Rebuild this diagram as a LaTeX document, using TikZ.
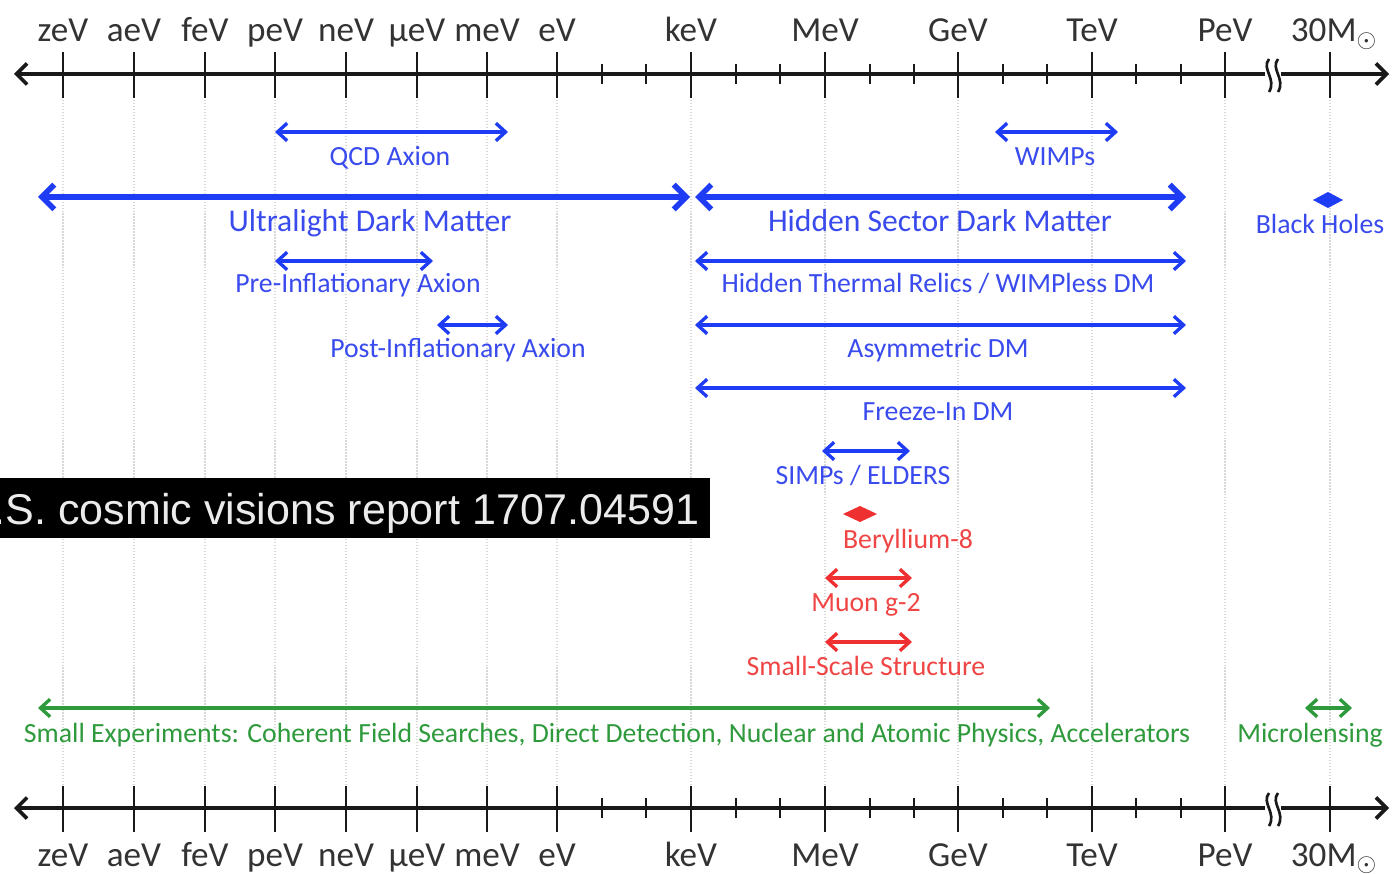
\documentclass[tikz,border=0pt]{standalone}
\usepackage{fontspec}
\setmainfont{Carlito}
\newfontfamily\arialf{Liberation Sans}
\usetikzlibrary{arrows.meta}
\definecolor{axgray}{HTML}{333333}
\definecolor{dmblue}{HTML}{1F3CF5}
\definecolor{dmbluetxt}{HTML}{3A4BEE}
\definecolor{dmred}{HTML}{EE3030}
\definecolor{dmredtxt}{HTML}{F04545}
\definecolor{dmgreen}{HTML}{2E9A3C}
\definecolor{gridgray}{HTML}{D8D8D8}
\tikzset{
  axisline/.style={line width=2.1pt, black!90,
    {Straight Barb[length=6pt,width=12pt]}-{Straight Barb[length=6pt,width=12pt]}},
  majtick/.style={line width=1.6pt, black!90},
  mintick/.style={line width=1.4pt, black!90},
  gridline/.style={gridgray, line width=0.7pt, densely dotted},
  axlabel/.style={font=\fontsize{20}{22}\selectfont, text=axgray, inner sep=0pt, anchor=base},
  dmarrow/.style={line width=1.9pt,
    {Straight Barb[length=5.5pt,width=10pt]}-{Straight Barb[length=5.5pt,width=10pt]}},
  dmthick/.style={line width=3.2pt,
    {Straight Barb[length=7pt,width=14pt]}-{Straight Barb[length=7pt,width=14pt]}},
  smalllab/.style={font=\fontsize{15.8}{17}\selectfont, inner sep=0pt, text height=0.7em, text depth=0.22em, yshift=-4*0.02cm},
  biglab/.style={font=\fontsize{18}{20}\selectfont, inner sep=0pt, text height=0.7em, text depth=0.22em, yshift=-4*0.02cm},
}
\begin{document}
\begin{tikzpicture}[x=0.02cm,y=-0.02cm]
\useasboundingbox (0,0) rectangle (1392,874);
\fill[white] (0,0) rectangle (1392,874);

% grid lines
\foreach \x in {63,134,205,275,346,417,487,557,691,825,958,1092,1225,1330}
  \draw[gridline] (\x,100) -- (\x,786);

% ---------- axes ----------
\foreach \ya/\nm in {74/top,808/bot}{
  \coordinate (\nm-L) at (14,\ya);
  \coordinate (\nm-R) at (1389,\ya);
  \draw[axisline] (\nm-L) -- (\nm-R);
  \foreach \x in {63,134,205,275,346,417,487,557,691,825,958,1092,1225,1330}
    \draw[majtick] (\x,\ya-22) -- (\x,\ya+24);
  \foreach \x in {602,646,736,780,870,914,1003,1047,1136,1181}
    \draw[mintick] (\x,\ya-10) -- (\x,\ya+10);
  % axis break
  \fill[white] (1265,\ya-6) rectangle (1281,\ya+6);
  \draw[line width=1.5pt, black!90] (1269,\ya-15) .. controls (1261,\ya-5) and (1277,\ya+5) .. (1269,\ya+18);
  \draw[line width=1.5pt, black!90] (1278,\ya-15) .. controls (1270,\ya-5) and (1286,\ya+5) .. (1278,\ya+18);
}

% axis labels
\foreach \x/\t/\n in {63/zeV/a,134/aeV/b,205/feV/c,275/peV/d,346/neV/e,417/μeV/f,487/meV/g,557/eV/h,691/keV/i,825/MeV/j,958/GeV/k,1092/TeV/l,1225/PeV/m}{
  \node[axlabel] (top-\n) at (\x,42) {\t};
  \node[axlabel] (bot-\n) at (\x,866) {\t};
}
\node[axlabel] (top-n) at (1334,42) {30M$_{\odot}$};
\node[axlabel] (bot-n) at (1334,866) {30M$_{\odot}$};

% ---------- blue: dark matter models ----------
\begin{scope}[dmblue]
\coordinate (qcdL) at (275,132); \coordinate (qcdR) at (508,132);
\draw[dmarrow] (qcdL) -- (qcdR);
\node[smalllab, text=dmbluetxt] (qcd) at (390,157) {QCD Axion};

\coordinate (wimL) at (995,132); \coordinate (wimR) at (1118,132);
\draw[dmarrow] (wimL) -- (wimR);
\node[smalllab, text=dmbluetxt] (wim) at (1055,157) {WIMPs};

\coordinate (uldL) at (38,197); \coordinate (uldR) at (690,197);
\draw[dmthick] (uldL) -- (uldR);
\node[biglab, text=dmbluetxt] (uld) at (370,223) {Ultralight Dark Matter};

\coordinate (hsdL) at (695,197); \coordinate (hsdR) at (1186,197);
\draw[dmthick] (hsdL) -- (hsdR);
\node[biglab, text=dmbluetxt] (hsd) at (940,223) {Hidden Sector Dark Matter};

\coordinate (bhD) at (1328,200);
\fill ([xshift=-15*0.02cm]bhD) -- ([yshift=8*0.02cm]bhD) -- ([xshift=15*0.02cm]bhD) -- ([yshift=-8*0.02cm]bhD) -- cycle;
\node[smalllab, text=dmbluetxt] (bh) at (1320,225) {Black Holes};

\coordinate (preL) at (275,261); \coordinate (preR) at (433,261);
\draw[dmarrow] (preL) -- (preR);
\node[smalllab, text=dmbluetxt] (pre) at (358,284) {Pre-Inflationary Axion};

\coordinate (htrL) at (695,261); \coordinate (htrR) at (1186,261);
\draw[dmarrow] (htrL) -- (htrR);
\node[smalllab, text=dmbluetxt] (htr) at (938,284) {Hidden Thermal Relics / WIMPless DM};

\coordinate (posL) at (437,325); \coordinate (posR) at (508,325);
\draw[dmarrow] (posL) -- (posR);
\node[smalllab, text=dmbluetxt] (pos) at (458,349) {Post-Inflationary Axion};

\coordinate (asyL) at (695,325); \coordinate (asyR) at (1186,325);
\draw[dmarrow] (asyL) -- (asyR);
\node[smalllab, text=dmbluetxt] (asy) at (938,349) {Asymmetric DM};

\coordinate (frzL) at (695,388); \coordinate (frzR) at (1186,388);
\draw[dmarrow] (frzL) -- (frzR);
\node[smalllab, text=dmbluetxt] (frz) at (938,412) {Freeze-In DM};

\coordinate (simL) at (822,451); \coordinate (simR) at (910,451);
\draw[dmarrow] (simL) -- (simR);
\node[smalllab, text=dmbluetxt] (sim) at (863,476) {SIMPs / ELDERS};
\end{scope}

% ---------- red: anomalies ----------
\begin{scope}[dmred]
\coordinate (beD) at (860,514);
\fill ([xshift=-17*0.02cm]beD) -- ([yshift=8*0.02cm]beD) -- ([xshift=17*0.02cm]beD) -- ([yshift=-8*0.02cm]beD) -- cycle;
\node[smalllab, text=dmredtxt] (be) at (908,540) {Beryllium-8};

\coordinate (muL) at (825,578); \coordinate (muR) at (912,578);
\draw[dmarrow] (muL) -- (muR);
\node[smalllab, text=dmredtxt] (mu) at (866,603) {Muon g-2};

\coordinate (ssL) at (825,642); \coordinate (ssR) at (912,642);
\draw[dmarrow] (ssL) -- (ssR);
\node[smalllab, text=dmredtxt] (ss) at (866,667) {Small-Scale Structure};
\end{scope}

% ---------- green: experiments ----------
\begin{scope}[dmgreen]
\coordinate (seL) at (38,708); \coordinate (seR) at (1050,708);
\draw[dmarrow] (seL) -- (seR);
\node[smalllab, text=dmgreen] (se) at (607,734) {Small Experiments: Coherent Field Searches, Direct Detection, Nuclear and Atomic Physics, Accelerators};

\coordinate (mlL) at (1305,708); \coordinate (mlR) at (1352,708);
\draw[dmarrow] (mlL) -- (mlR);
\node[smalllab, text=dmgreen] (ml) at (1310,734) {Microlensing};
\end{scope}

% ---------- caption box ----------
\fill[black] (0,478) rectangle (710,538);
\begin{scope}
\clip (0,478) rectangle (710,538);
\node[anchor=east, text=white!92!black, font=\arialf\fontsize{24.5}{26}\selectfont, inner sep=0pt] (cap) at (700,513) {U.S. cosmic visions report 1707.04591};
\end{scope}
\end{tikzpicture}
\end{document}
